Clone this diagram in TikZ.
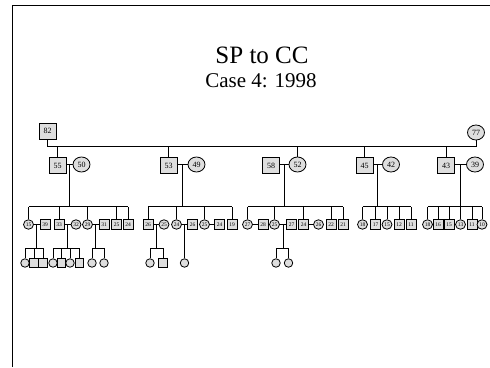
\documentclass[tikz,border=0pt]{standalone}
\usepackage{fontspec}
\setmainfont{Liberation Serif}
\usetikzlibrary{shapes.geometric,calc}
\begin{document}
\begin{tikzpicture}[x=1pt,y=-1pt,
  ln/.style={line width=0.8pt,draw=black},
  bsq/.style={rectangle,draw=black,line width=0.8pt,fill=black!13,minimum width=17pt,minimum height=16pt,inner sep=0pt,font=\fontsize{8}{8}\selectfont},
  bci/.style={ellipse,draw=black,line width=0.8pt,fill=black!13,minimum width=17pt,minimum height=15pt,inner sep=0pt,font=\fontsize{8}{8}\selectfont},
  msq/.style={rectangle,draw=black,line width=0.8pt,fill=black!13,minimum width=10pt,minimum height=10pt,inner sep=0pt,font=\fontsize{5.5}{5.5}\selectfont},
  mci/.style={ellipse,draw=black,line width=0.8pt,fill=black!13,minimum width=10pt,minimum height=9.5pt,inner sep=0pt,font=\fontsize{5.5}{5.5}\selectfont},
  ssq/.style={rectangle,draw=black,line width=0.8pt,fill=black!13,minimum width=8.5pt,minimum height=8.5pt,inner sep=0pt},
  sci/.style={ellipse,draw=black,line width=0.8pt,fill=black!13,minimum width=8.5pt,minimum height=8.5pt,inner sep=0pt}]
\useasboundingbox (0,0) rectangle (490,367);
\fill[white] (0,0) rectangle (490,367);
% frame
\draw[line width=1pt] (12,367) -- (12,5) -- (490,5);
% title
\node (t1) at (262,55) {\fontsize{25}{25}\selectfont SP to CC};
\node (t2) at (261,80.5) {\fontsize{21}{21}\selectfont Case 4: 1998};
% generation 1
\node[bsq] (g82) at (47.5,131) {82};
\node[bci] (g77) at (476,132.5) {77};
\coordinate (top) at (0,146);
% generation 2
\node[bsq] (p55) at (57.5,165.5) {55};
\node[bci] (p50) at (81.5,164.5) {50};
\node[bsq] (p53) at (168.5,165.5) {53};
\node[bci] (p49) at (196.5,164.5) {49};
\node[bsq] (p58) at (271,165.5) {58};
\node[bci] (p52) at (297.5,164.5) {52};
\node[bsq] (p45) at (364.5,165.5) {45};
\node[bci] (p42) at (391,164.5) {42};
\node[bsq] (p43) at (446,165.5) {43};
\node[bci] (p39) at (475,164.5) {39};
\draw[ln] (g82.south) -- (g82.south |- top) -- (g77.south |- top) -- (g77.south);
\foreach \n in {p55,p53,p52,p45,p43} \draw[ln] (\n.north) -- (\n.north |- top);
\foreach \a/\b/\m in {p55/p50/m1,p53/p49/m2,p58/p52/m3,p45/p42/m4,p43/p39/m5}{
  \draw[ln] (\a.east |- \b.center) -- (\b.west);
  \coordinate (\m) at ($(\a.east |- \b.center)!0.5!(\b.west)$);
}
\coordinate (s3) at (0,206.5);
\foreach \m in {m1,m2,m3,m4,m5} \draw[ln] (\m) -- (\m |- s3);
% generation 3, family A
\node[mci] (a15) at (28.5,224.5) {15};
\node[msq] (a39) at (45,224.5) {39};
\node[msq] (a33) at (59,224.5) {33};
\node[mci] (a32) at (76,224.5) {32};
\node[mci] (a29) at (87.5,224.5) {29};
\node[msq] (a31) at (104,224.5) {31};
\node[msq] (a25) at (116.5,224.5) {25};
\node[msq] (a24) at (128,224.5) {24};
\draw[ln] (a15.north |- s3) -- (a24.north |- s3);
\foreach \n in {a15,a33,a29,a25,a24} \draw[ln] (\n.north) -- (\n.north |- s3);
% family B
\node[msq] (c26) at (148,224.5) {26};
\node[mci] (c25) at (164,224.5) {25};
\node[mci] (c24) at (176.5,224.5) {24};
\node[msq] (c26b) at (192.5,224.5) {26};
\node[mci] (c25b) at (204.5,224.5) {25};
\node[msq] (c24b) at (219.5,224.5) {24};
\node[msq] (c19) at (232,224.5) {19};
\draw[ln] (c26.north |- s3) -- (c19.north |- s3);
\foreach \n in {c26,c24,c25b,c19} \draw[ln] (\n.north) -- (\n.north |- s3);
% family C
\node[mci] (e27) at (247.5,224.5) {27};
\node[msq] (e28) at (263,224.5) {28};
\node[mci] (e25) at (274.5,224.5) {25};
\node[msq] (e27b) at (291.5,224.5) {27};
\node[msq] (e24) at (303.5,224.5) {24};
\node[mci] (e26) at (318.5,224.5) {26};
\node[msq] (e22) at (331,224.5) {22};
\node[msq] (e21) at (343,224.5) {21};
\draw[ln] (e27.north |- s3) -- (e21.north |- s3);
\foreach \n in {e27,e25,e24,e22,e21} \draw[ln] (\n.north) -- (\n.north |- s3);
% family D
\node[mci] (g18) at (362.5,224.5) {18};
\node[msq] (g17) at (375.5,224.5) {17};
\node[mci] (g15) at (387,224.5) {15};
\node[msq] (g12) at (399,224.5) {12};
\node[msq] (g11) at (411,224.5) {11};
\draw[ln] (g18.north |- s3) -- (g11.north |- s3);
\foreach \n in {g18,g17,g15,g12,g11} \draw[ln] (\n.north) -- (\n.north |- s3);
% family E
\node[mci] (h18) at (427.5,224.5) {18};
\node[msq] (h16) at (438,224.5) {16};
\node[msq] (h15) at (449,224.5) {15};
\node[mci] (h13) at (460.5,224.5) {13};
\node[msq] (h11) at (472,224.5) {11};
\node[mci] (h10) at (482,224.5) {10};
\draw[ln] (h18.north |- s3) -- (h10.north |- s3);
\foreach \n in {h18,h16,h15,h13,h11,h10} \draw[ln] (\n.north) -- (\n.north |- s3);
% generation 3 marriages
\foreach \a/\b/\m in {a15/a39/q1,a33/a32/q2,a29/a31/q3,c26/c25/q4,c24/c26b/q5,c25b/c24b/q6,e27/e28/q7,e25/e27b/q8,e24/e26/q9}{
  \draw[ln] (\a.east) -- (\b.west);
  \coordinate (\m) at ($(\a.east)!0.5!(\b.west)$);
}
\coordinate (s4) at (0,248);
\foreach \m in {q1,q2,q3,q4,q8} \draw[ln] (\m) -- (\m |- s4);
% generation 4
\node[sci] (b1) at (25,263) {};
\node[ssq] (b2) at (34,263) {};
\node[ssq] (b3) at (43,263) {};
\node[sci] (b4) at (53,263) {};
\node[ssq] (b5) at (61.5,263) {};
\node[sci] (b6) at (70,263) {};
\node[ssq] (b7) at (79.5,263) {};
\node[sci] (b8) at (92,263) {};
\node[sci] (b9) at (104,263) {};
\node[sci] (d1) at (150,263) {};
\node[ssq] (d2) at (163,263) {};
\node[sci] (d3) at (184.5,263) {};
\node[sci] (f1) at (276,263) {};
\node[sci] (f2) at (288.5,263) {};
\foreach \l/\r in {b1/b3,b4/b7,b8/b9,d1/d2,f1/f2} \draw[ln] (\l.north |- s4) -- (\r.north |- s4);
\foreach \n in {b1,b2,b3,b4,b5,b6,b7,b8,b9,d1,d2,f1,f2} \draw[ln] (\n.north) -- (\n.north |- s4);
\draw[ln] (q5) -- (d3.north);
\end{tikzpicture}
\end{document}
